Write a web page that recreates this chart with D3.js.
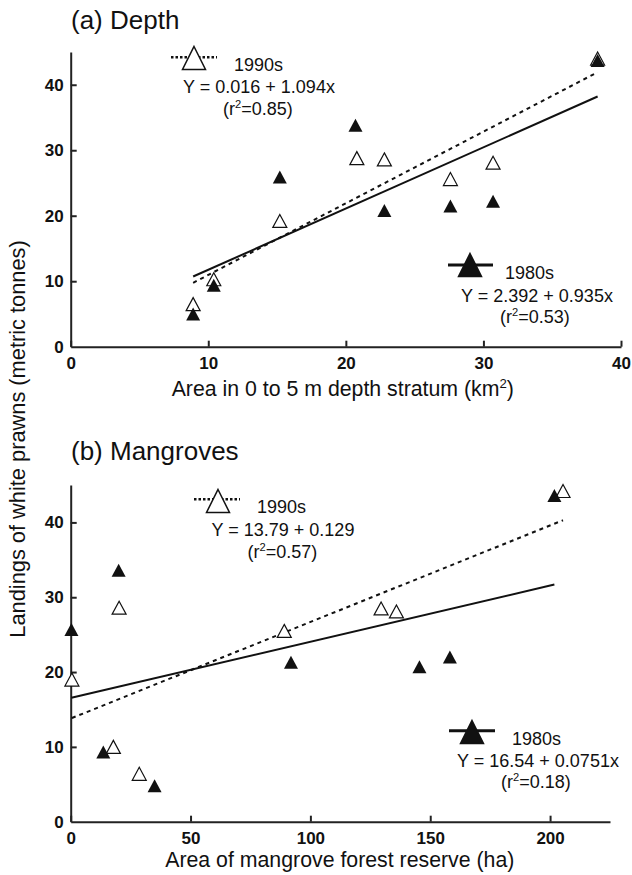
<!DOCTYPE html>
<html>
<head>
<meta charset="utf-8">
<script src="https://cdn.jsdelivr.net/npm/d3@7"></script>
<style>
  body { margin: 0; background: #fff; }
  svg { display: block; font-family: "Liberation Sans", Arial, sans-serif; }
  .axis path, .axis line { stroke: #222; stroke-width: 2; }
  .axis text { font-size: 17px; font-weight: bold; fill: #111; }
</style>
</head>
<body>
<svg id="chart" width="632" height="875"></svg>
<script>
// (a) depth panel, x = area of 0-5 m stratum (km2), y = landings (t)
var depthX80 = [8.9, 10.4, 15.2, 20.7, 22.8, 27.6, 30.7, 38.3];
var depthY80 = [5.0, 9.4, 25.9, 33.8, 20.8, 21.5, 22.2, 43.7];
var depthX90 = [8.9, 10.4, 15.2, 20.8, 22.8, 27.6, 30.7, 38.3];
var depthY90 = [6.5, 10.3, 19.2, 28.8, 28.6, 25.6, 28.1, 44.0];

// (b) mangrove panel, x = mangrove forest reserve (ha)
var mangX80 = [0.3, 20.0, 13.6, 35.0, 91.9, 145.5, 158.2, 201.8];
var mangY80 = [25.7, 33.6, 9.3, 4.8, 21.3, 20.7, 22.0, 43.6];
var mangX90 = [0.5, 20.2, 17.8, 28.6, 89.1, 129.5, 135.9, 205.4];
var mangY90 = [19.0, 28.6, 10.0, 6.4, 25.5, 28.5, 28.1, 44.2];

// regression coefficients [intercept, slope]
var depthFit80 = [2.392, 0.935];
var depthFit90 = [0.016, 1.094];
var mangFit80 = [16.54, 0.0751];
var mangFit90 = [13.79, 0.129];

var yTicks = [0, 10, 20, 30, 40];
var depthTicks = [0, 10, 20, 30, 40];
var mangTicks = [0, 50, 100, 150, 200];

var svg = d3.select("#chart");

function tri(w, h)
{
	return "M0," + (-h / 2) + "L" + (w / 2) + "," + (h / 2) + "L" + (-w / 2) + "," + (h / 2) + "Z";
}

// text, with a superscript "2" between the two parts when there is a second part
function supText(g, x, y, before, after, anchor, size)
{
	var t = g.append("text")
		.attr("x", x).attr("y", y)
		.attr("text-anchor", anchor)
		.style("font-size", size + "px")
		.attr("fill", "#111");
	t.append("tspan").text(before);
	if (after != null)
	{
		t.append("tspan").attr("dy", -size * 0.38).style("font-size", (size * 0.62) + "px").text("2");
		t.append("tspan").attr("dy", size * 0.38).text(after);
	}
	return t;
}

function drawPanel(p)
{
	var g = svg.append("g");
	var x = d3.scaleLinear().domain(p.xDomain).range(p.xRange);
	var y = d3.scaleLinear().domain([0, 45]).range(p.yRange);

	g.append("text")
		.attr("x", p.titlePos[0]).attr("y", p.titlePos[1])
		.style("font-size", "26px").attr("fill", "#111")
		.text(p.title);

	g.append("g").attr("class", "axis")
		.attr("transform", "translate(" + p.xRange[0] + ",0)")
		.call(d3.axisLeft(y).tickValues(yTicks).tickSizeInner(-6).tickSizeOuter(0).tickPadding(7))
		.call(function (a) { a.selectAll(".tick").filter(function (d) { return d == 0; }).select("line").remove(); });

	g.append("g").attr("class", "axis")
		.attr("transform", "translate(0," + p.yRange[0] + ")")
		.call(d3.axisBottom(x).tickValues(p.xTicks).tickSizeInner(-6).tickSizeOuter(0).tickPadding(10));

	supText(g, p.xLabelX, p.xLabelY, p.xLabel[0], p.xLabel[1], "middle", 21.3);

	// regression lines over each decade's x range
	function fitLine(xs, fit, dash)
	{
		var ext = d3.extent(xs);
		g.append("path")
			.attr("d", d3.line().x(function (d) { return x(d); }).y(function (d) { return y(fit[0] + fit[1] * d); })(ext))
			.attr("fill", "none")
			.attr("stroke", "#111")
			.attr("stroke-width", 2)
			.attr("stroke-dasharray", dash);
	}
	fitLine(p.x90, p.fit90, "4,4");
	fitLine(p.x80, p.fit80, null);

	// open (1990s) first, filled (1980s) drawn over them
	g.selectAll(".p90").data(d3.zip(p.x90, p.y90)).enter().append("path")
		.attr("transform", function (d) { return "translate(" + x(d[0]) + "," + y(d[1]) + ")"; })
		.attr("d", tri(14, 13))
		.attr("fill", "#fff")
		.attr("stroke", "#111")
		.attr("stroke-width", 1.2);

	g.selectAll(".p80").data(d3.zip(p.x80, p.y80)).enter().append("path")
		.attr("transform", function (d) { return "translate(" + x(d[0]) + "," + y(d[1]) + ")"; })
		.attr("d", tri(14, 13))
		.attr("fill", "#111");

	// legend blocks
	function legend(L, open)
	{
		g.append("line")
			.attr("x1", L.line[0]).attr("x2", L.line[1])
			.attr("y1", L.line[2]).attr("y2", L.line[2])
			.attr("stroke", "#111")
			.attr("stroke-width", open ? 2.5 : 3)
			.attr("stroke-dasharray", open ? "2.5,2" : null);
		g.append("path")
			.attr("transform", "translate(" + L.mark[0] + "," + L.mark[1] + ")")
			.attr("d", tri(23, 23))
			.attr("fill", open ? "#fff" : "#111")
			.attr("stroke", "#111")
			.attr("stroke-width", 1.5);
		g.append("text")
			.attr("x", L.name[0]).attr("y", L.name[1])
			.style("font-size", "18px").attr("fill", "#111")
			.text(L.label);
		g.append("text")
			.attr("x", L.eq[0]).attr("y", L.eq[1])
			.attr("text-anchor", "middle")
			.style("font-size", "18px").attr("fill", "#111")
			.text(L.equation);
		supText(g, L.r2[0], L.r2[1], "(r", "=" + L.r2val + ")", "middle", 18);
	}
	legend(p.leg90, true);
	legend(p.leg80, false);
}

drawPanel({
	title: "(a) Depth",
	titlePos: [71, 28.5],
	xDomain: [0, 40],
	xRange: [70.7, 621],
	yRange: [346.7, 52],
	xTicks: depthTicks,
	xLabel: ["Area in 0 to 5 m depth stratum (km", ")"],
	xLabelX: 342.8,
	xLabelY: 396,
	x80: depthX80, y80: depthY80, x90: depthX90, y90: depthY90,
	fit80: depthFit80, fit90: depthFit90,
	leg90: { line: [171, 217, 57.3], mark: [194, 58], name: [234, 70.7], eq: [259, 92.7], r2: [258, 115],
		label: "1990s", equation: "Y = 0.016 + 1.094x", r2val: "0.85" },
	leg80: { line: [448, 493, 265], mark: [470, 265], name: [505, 279.3], eq: [537, 301.7], r2: [535, 323.3],
		label: "1980s", equation: "Y = 2.392 + 0.935x", r2val: "0.53" }
});

drawPanel({
	title: "(b) Mangroves",
	titlePos: [71, 460],
	xDomain: [0, 225],
	xRange: [70.7, 610],
	yRange: [821.7, 485],
	xTicks: mangTicks,
	xLabel: ["Area of mangrove forest reserve (ha)", null],
	xLabelX: 339.8,
	xLabelY: 867,
	x80: mangX80, y80: mangY80, x90: mangX90, y90: mangY90,
	fit80: mangFit80, fit90: mangFit90,
	leg90: { line: [194, 240, 499.3], mark: [218, 501], name: [257, 513.3], eq: [283, 536], r2: [282.5, 558.3],
		label: "1990s", equation: "Y = 13.79 + 0.129", r2val: "0.57" },
	leg80: { line: [449, 495, 730.7], mark: [472, 732], name: [512, 745], eq: [538, 766.7], r2: [536, 788.3],
		label: "1980s", equation: "Y = 16.54 + 0.0751x", r2val: "0.18" }
});

// shared y axis title
svg.append("text")
	.attr("transform", "translate(25,439) rotate(-90)")
	.attr("text-anchor", "middle")
	.style("font-size", "21.8px").attr("fill", "#111")
	.text("Landings of white prawns (metric tonnes)");
</script>
</body>
</html>
